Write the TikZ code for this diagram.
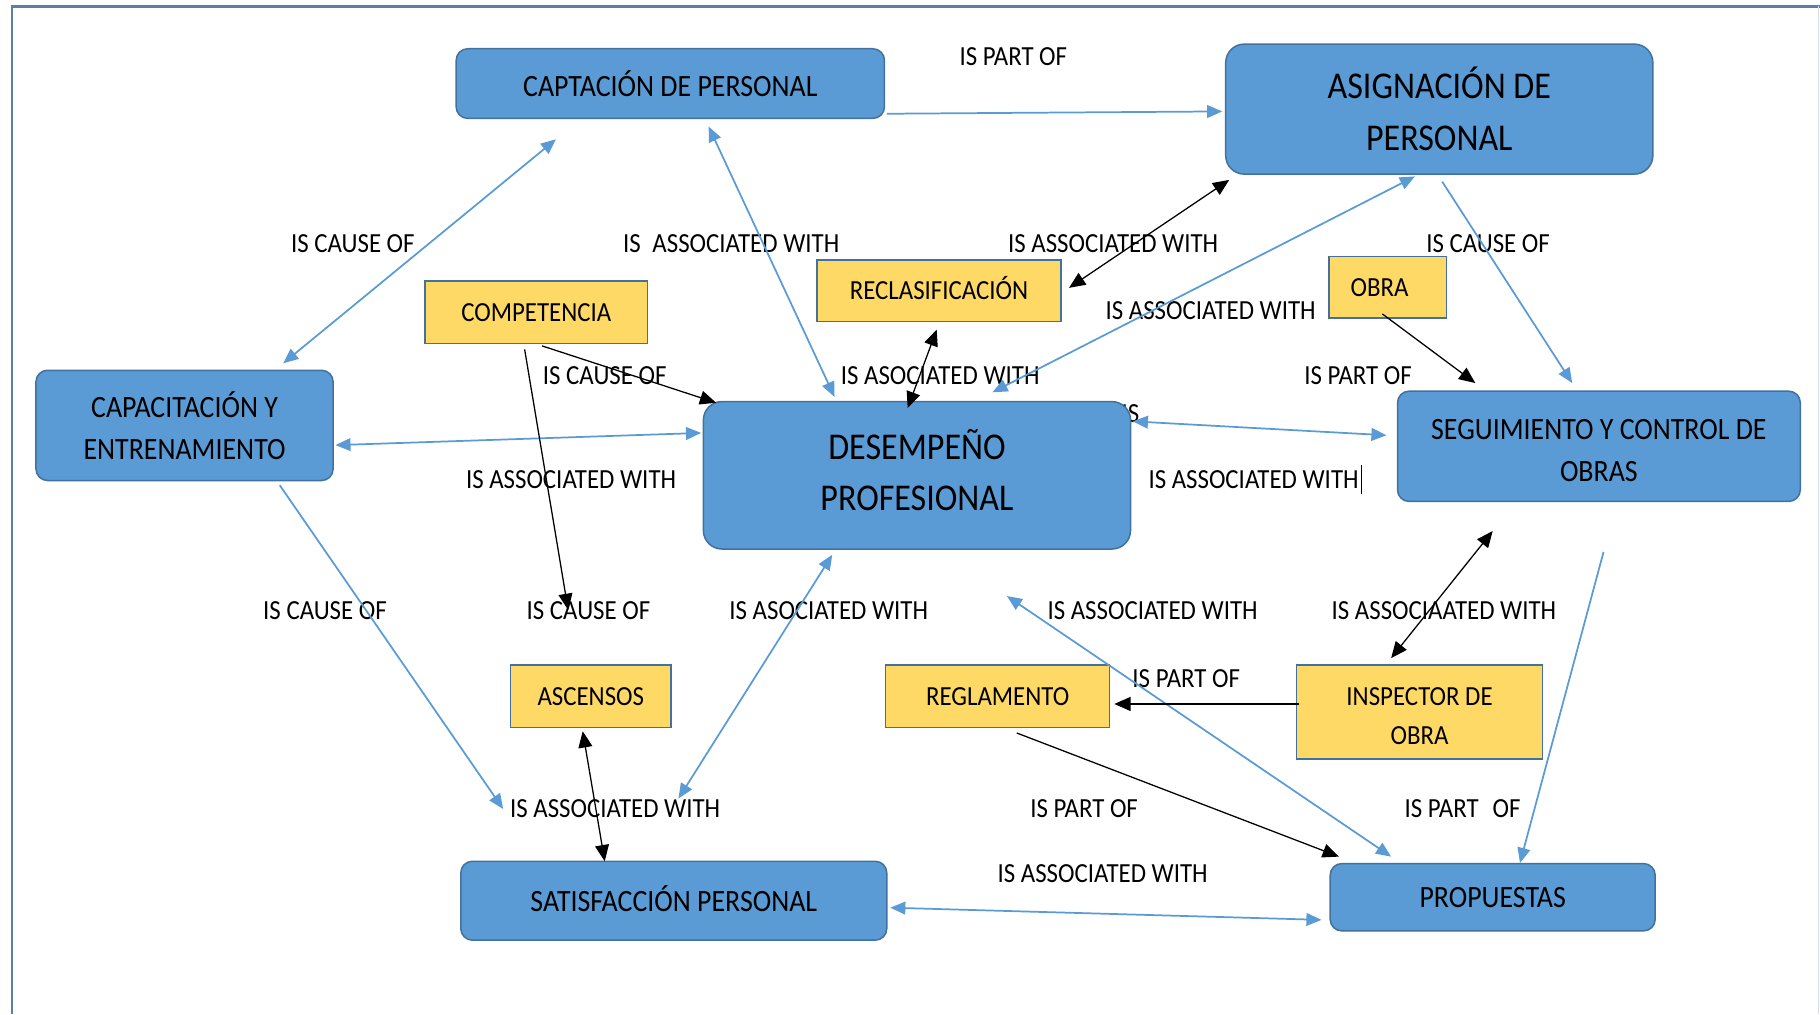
\documentclass[tikz,border=0pt]{standalone}
\usepackage{fontspec}
\setmainfont{Carlito}[FakeStretch=0.9]
\usetikzlibrary{arrows.meta,calc}
\definecolor{nodeblue}{HTML}{5B9BD5}
\definecolor{edgeblue}{HTML}{41719C}
\definecolor{nodeyellow}{HTML}{FFD966}
\definecolor{lineblue}{HTML}{5B9BD5}
\definecolor{framecol}{HTML}{5A7FA8}
\begin{document}
\begin{tikzpicture}[x=1pt,y=-1pt,
  bluebox/.style={draw=edgeblue, line width=1.3pt, fill=nodeblue, rounded corners=10pt, inner sep=0pt, align=center, font=\fontsize{26.7}{36}\selectfont},
  bigbox/.style={bluebox, rounded corners=16pt, font=\fontsize{32.6}{44.5}\selectfont},
  yellowbox/.style={draw=edgeblue, line width=1.2pt, fill=nodeyellow, inner sep=0pt, align=center, font=\fontsize{23.8}{34}\selectfont},
  lbl/.style={inner sep=0pt, font=\fontsize{23.8}{28}\selectfont},
  bline/.style={draw=lineblue, line width=1.5pt},
  barrow/.style={bline, -{Triangle[length=13pt,width=11pt]}},
  bboth/.style={bline, {Triangle[length=13pt,width=11pt]}-{Triangle[length=13pt,width=11pt]}},
  kline/.style={draw=black, line width=1.1pt},
  karrow/.style={kline, -{Triangle[length=14pt,width=12pt]}},
  kboth/.style={kline, {Triangle[length=14pt,width=12pt]}-{Triangle[length=14pt,width=12pt]}},
]
\useasboundingbox (0,0) rectangle (1568,874);
% frame
\draw[framecol, line width=2pt] (10.3,874) -- (10.3,5.5) -- (1568,5.5);
\draw[framecol!25, line width=1pt] (1566.5,5.5) -- (1566.5,874);

% partly hidden label behind DESEMPEÑO
\node[lbl] (lhid) at (974,356) {IS};

% blue nodes
\node[bluebox, minimum width=369pt, minimum height=60pt] (capt) at (577.5,72) {CAPTACIÓN DE PERSONAL};
\node[bigbox, minimum width=368pt, minimum height=112pt] (asig) at (1240,94) {\rule{0pt}{26pt}ASIGNACIÓN DE\\PERSONAL};
\node[bluebox, minimum width=256pt, minimum height=95pt] (capa) at (159,366.5) {\rule{0pt}{19pt}CAPACITACIÓN Y\\ENTRENAMIENTO};
\node[bigbox, minimum width=368pt, minimum height=127pt] (dese) at (790,409.5) {DESEMPEÑO\\PROFESIONAL\rule[-9pt]{0pt}{9pt}};
\node[bluebox, minimum width=347pt, minimum height=95pt] (segu) at (1377.5,384.5) {\rule{0pt}{25pt}SEGUIMIENTO Y CONTROL DE\\OBRAS};
\node[bluebox, minimum width=367pt, minimum height=68pt] (sati) at (580.5,776) {SATISFACCIÓN PERSONAL\rule[-3pt]{0pt}{3pt}};
\node[bluebox, minimum width=280pt, minimum height=58pt] (prop) at (1286,773) {PROPUESTAS};

% yellow nodes
\node[yellowbox, minimum width=192pt, minimum height=54pt] (comp) at (462,269) {COMPETENCIA};
\node[yellowbox, minimum width=210pt, minimum height=53pt] (recl) at (809,250.5) {RECLASIFICACIÓN\rule[-4pt]{0pt}{4pt}};
\node[yellowbox, minimum width=101pt, minimum height=53pt] (obra) at (1195.5,247.5) {\hspace*{-14pt}OBRA};
\node[yellowbox, minimum width=138pt, minimum height=54pt] (ascn) at (509,600) {ASCENSOS};
\node[yellowbox, minimum width=193pt, minimum height=54pt] (regl) at (859.5,600) {REGLAMENTO};
\node[yellowbox, minimum width=212pt, minimum height=81pt] (insp) at (1223,613.5) {\rule{0pt}{22pt}INSPECTOR DE\\OBRA};

% labels
\node[lbl] (l1) at (873,49) {IS PART OF};
\node[lbl] (l2) at (304,210) {IS CAUSE OF};
\node[lbl] (l3) at (630,210) {IS\hspace{10pt}ASSOCIATED WITH};
\node[lbl] (l4) at (959,210) {IS ASSOCIATED WITH};
\node[lbl] (l5) at (1282,210) {IS CAUSE OF};
\node[lbl] (l6) at (1043,268) {IS ASSOCIATED WITH};
\node[lbl] (l7) at (521,324) {IS CAUSE OF};
\node[lbl] (l8) at (810,324) {IS ASOCIATED WITH};
\node[lbl] (l9) at (1170,324) {IS PART OF};
\node[lbl] (l11) at (492,413) {IS ASSOCIATED WITH};
\node[lbl] (l12) at (1080,413) {IS ASSOCIATED WITH};
\node[lbl] (l13) at (280,526) {IS CAUSE OF};
\node[lbl] (l14) at (507,526) {IS CAUSE OF};
\node[lbl] (l15) at (714,526) {IS ASOCIATED WITH};
\node[lbl] (l16) at (993,526) {IS ASSOCIATED WITH};
\node[lbl] (l17) at (1244,526) {IS ASSOCIAATED WITH};
\node[lbl] (l18) at (1022,585) {IS PART OF};
\node[lbl] (l19) at (530,697) {IS ASSOCIATED WITH};
\node[lbl] (l20) at (934,697) {IS PART OF};
\node[lbl] (l21) at (1260,697) {IS PART\hspace{12pt}OF};
\node[lbl] (l22) at (950,753) {IS ASSOCIATED WITH};
% text cursor after label
\draw[black, line width=1pt] ($(l12.east)+(2,-12)$) -- ($(l12.east)+(2,13)$);

% blue connectors
\draw[barrow] ($(capt)+(186.5,26)$) -- ($(asig)+(-187,2)$);
\draw[bboth] ($(capt)+(-98.5,48)$) -- ($(capa)+(85,-53.5)$);
\draw[bboth] ($(capt)+(33,37)$) -- ($(dese)+(-71,-67.5)$);
\draw[bboth] ($(capa)+(130,17)$) -- ($(dese)+(-186,-36.5)$);
\draw[bboth] ($(asig)+(-21,58)$) -- ($(dese)+(65,-71.5)$);
\draw[barrow] ($(asig)+(2.5,62.5)$) -- ($(segu)+(-23,-54.5)$);
\draw[bboth] ($(dese)+(186,-46.5)$) -- ($(segu)+(-183,-9.5)$);
\draw[barrow] ($(capa)+(82,51.5)$) -- ($(sati)+(-147,-79)$);
\draw[bboth] ($(dese)+(-73,68.5)$) -- ($(sati)+(4,-88)$);
\draw[bboth] ($(dese)+(77.5,104)$) -- ($(prop)+(-87.5,-35)$);
\draw[barrow] ($(segu)+(4,91)$) -- ($(prop)+(23.5,-29.5)$);
\draw[bboth] ($(sati)+(186.5,6)$) -- ($(prop)+(-147.5,19.5)$);

% black connectors
\draw[karrow] ($(comp)+(5,29)$) -- ($(dese)+(-173,-62.5)$);
\draw[karrow] ($(comp)+(-10,32)$) -- ($(ascn)+(-19.5,-74.5)$);
\draw[kboth] ($(recl)+(-2,33.5)$) -- ($(dese)+(-8,-58)$);
\draw[kboth] ($(recl)+(112,-2.5)$) -- ($(asig)+(-181,61)$);
\draw[karrow] ($(obra)+(-4.5,23)$) -- ($(segu)+(-106.5,-54.5)$);
\draw[kboth] ($(ascn)+(-7,30)$) -- ($(sati)+(-59.5,-34)$);
\draw[kboth] ($(insp)+(-24.5,-46.5)$) -- ($(segu)+(-91.5,73)$);
\draw[karrow] ($(insp)+(-103.5,-7)$) -- ($(regl)+(100.5,6.5)$);
\draw[karrow] ($(regl)+(16.5,31.5)$) -- ($(prop)+(-132.5,-35)$);
\end{tikzpicture}
\end{document}
